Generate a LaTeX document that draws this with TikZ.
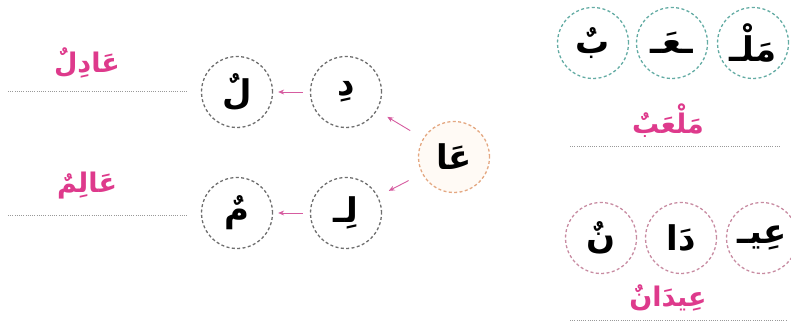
\documentclass[tikz,border=0pt]{standalone}
\usepackage{fontspec}
\usepackage{tikz}
\usetikzlibrary{arrows.meta,positioning}
\TeXXeTstate=1
\newfontfamily\arabicfont[Script=Arabic]{DejaVu Sans}
\definecolor{wordpink}{RGB}{222,58,140}
\definecolor{arrowpink}{RGB}{214,92,160}
\definecolor{ringgray}{RGB}{110,110,110}
\definecolor{ringteal}{RGB}{100,172,164}
\definecolor{ringpink}{RGB}{200,140,162}
\definecolor{ringorange}{RGB}{228,168,130}
\newcommand{\ar}[1]{\arabicfont\bfseries\beginR #1\endR}

\begin{document}
\begin{tikzpicture}[x=1pt, y=-1pt,
    part/.style={circle, dashed, dash pattern=on 3pt off 2.4pt, line width=1.3pt,
        minimum size=71pt, inner sep=0pt, font=\fontsize{34}{40}\selectfont},
    word/.style={text=wordpink, font=\fontsize{27}{32}\selectfont},
    base/.style={gray!80, line width=1pt, dash pattern=on 1pt off 1.2pt},
    arr/.style={arrowpink, line width=0.9pt, -{Stealth[length=6pt, width=5pt]}}
]
\useasboundingbox (0,0) rectangle (791,331);

% left: two words from one start
\node[part, draw=ringorange, fill=orange!4] (ea) at (454,157) {\ar{عَا}};
\node[part, draw=ringgray] (di) at (346,92) {\ar{دِ}};
\node[part, draw=ringgray] (lun) at (237,92) {\ar{لٌ}};
\node[part, draw=ringgray] (li) at (346,213) {\ar{لِـ}};
\node[part, draw=ringgray] (mun) at (237,213) {\ar{مٌ}};

\draw[arr, shorten <=15pt, shorten >=12pt] (ea) -- (di);
\draw[arr, shorten <=15pt, shorten >=12pt] (ea) -- (li);
\draw[arr, shorten <=7pt, shorten >=5pt] (di) -- (lun);
\draw[arr, shorten <=7pt, shorten >=5pt] (li) -- (mun);

\node[word] (adil) at (87,63) {\ar{عَادِلٌ}};
\node[word] (alim) at (87,186) {\ar{عَالِمٌ}};
\draw[base] (8,92) -- (187,92);
\draw[base] (8,215) -- (187,215);

% right: parts joined into a word
\node[part, draw=ringteal] (mal) at (753,43) {\ar{مَلْـ}};
\node[part, draw=ringteal] (ayn) at (672,43) {\ar{ـعَـ}};
\node[part, draw=ringteal] (bun) at (593,43) {\ar{بٌ}};
\node[word] (malab) at (668,121) {\ar{مَلْعَبٌ}};
\draw[base] (570,147) -- (780,147);

\node[part, draw=ringpink] (iy) at (762,238) {\ar{عِيـ}};
\node[part, draw=ringpink] (da) at (681,238) {\ar{دَا}};
\node[part, draw=ringpink] (nun) at (601,238) {\ar{نٌ}};
\node[word] (idan) at (668,298) {\ar{عِيدَانٌ}};
\draw[base] (570,320) -- (787,320);
\end{tikzpicture}
\end{document}
